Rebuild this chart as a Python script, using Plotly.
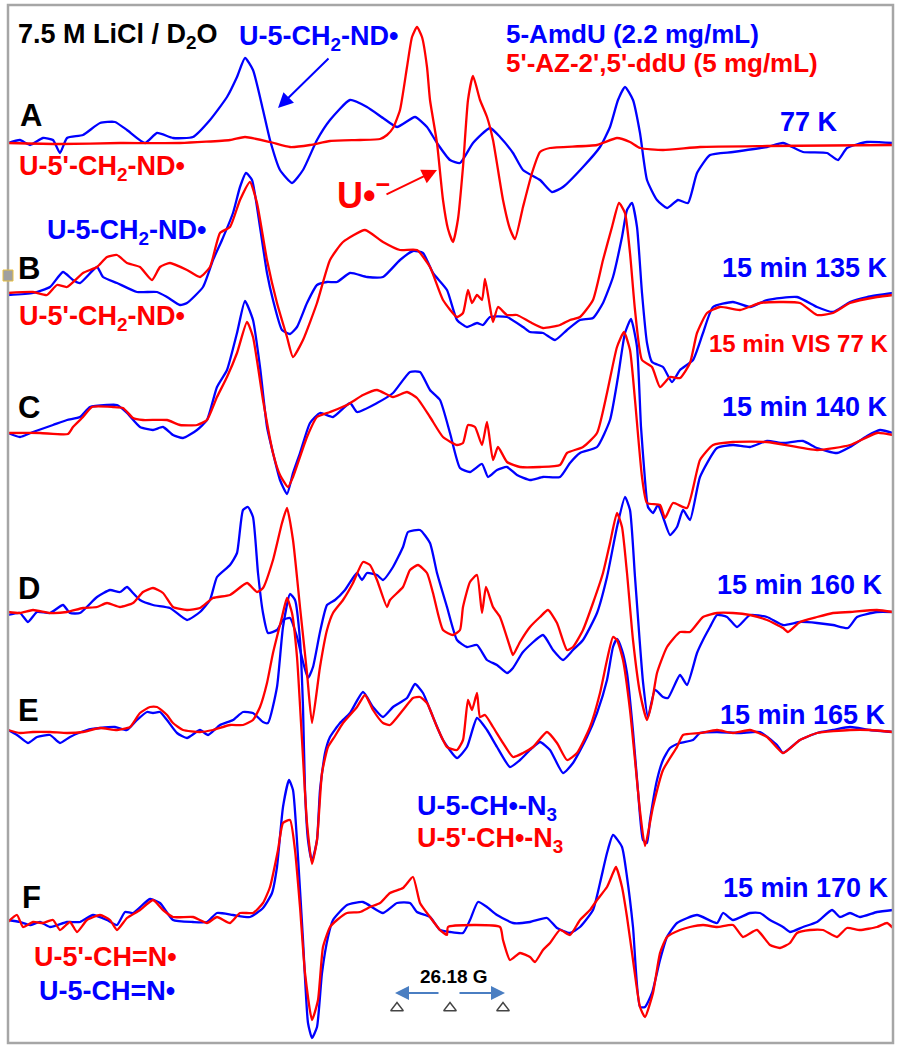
import plotly.graph_objects as go

# ---------------------------------------------------------------
# ESR first-derivative spectra.
# Each entry: (field position [a.u.], signal intensity [a.u.])
# blue = 5-AmdU (2.2 mg/mL), red = 5'-AZ-2',5'-ddU (5 mg/mL)
# ---------------------------------------------------------------
A_blue = [(8,1),(20,4),(30,-1),(43,6),(53,4),(60,-9),(67,6),(83,9),(100,21),(115,22),(127,14),(145,1),(157,11),(173,6),(193,7),(210,24),(227,47),(237,67),(245,86),(253,74),(263,34),(270,4),(280,-26),(292,-39),(303,-26),(317,4),(330,24),(350,44),(367,37),(383,26),(397,17),(415,27),(427,17),(437,1),(450,-16),(460,-19),(473,1),(490,16),(500,7),(513,-9),(523,-26),(540,-36),(552,-48),(563,-43),(583,-23),(600,-3),(610,17),(618,44),(625,57),(633,44),(640,11),(647,-36),(657,-56),(667,-64),(678,-56),(688,-59),(697,-29),(710,-11),(733,-8),(767,-3),(783,1),(803,-8),(827,-9),(838,-16),(847,-4),(867,2),(893,1)]
A_red = [(8,1),(60,0),(120,1),(180,1),(230,4),(245,7),(270,2),(290,-3),(310,-1),(330,3),(360,4),(380,5),(387,9),(393,16),(400,34),(407,77),(412,107),(417,117),(422,107),(427,77),(430,44),(437,1),(443,-56),(448,-85),(453,-98),(458,-75),(463,-23),(468,44),(473,68),(480,44),(487,27),(493,4),(503,-56),(510,-85),(515,-95),(523,-63),(532,-29),(540,-8),(550,-4),(597,-1),(617,6),(630,2),(640,-4),(663,-6),(700,-3),(767,-2),(893,-1)]

B_blue = [(8,0),(33,2),(50,8),(63,23),(73,15),(80,12),(97,28),(103,18),(117,12),(137,3),(157,3),(167,-2),(180,-10),(187,-8),(203,8),(213,35),(222,55),(233,82),(240,108),(246,122),(252,115),(260,68),(267,22),(273,-5),(282,-35),(290,-39),(297,-32),(307,-8),(317,10),(327,13),(337,13),(350,22),(367,18),(383,18),(400,35),(413,44),(423,42),(433,22),(447,5),(457,-25),(467,-32),(477,-28),(483,-30),(490,-22),(507,-22),(523,-32),(530,-37),(543,-38),(555,-45),(567,-35),(580,-25),(593,-23),(603,-8),(613,18),(622,58),(627,85),(632,92),(637,68),(642,2),(647,-48),(652,-67),(663,-72),(672,-87),(680,-75),(693,-65),(703,-38),(713,-12),(733,-7),(750,-12),(767,-5),(797,-2),(817,-12),(833,-17),(850,-7),(867,-2),(893,2)]
B_red = [(8,2),(33,3),(47,0),(57,10),(67,8),(83,22),(97,28),(107,38),(117,40),(127,32),(140,28),(152,15),(160,28),(170,32),(187,25),(200,18),(210,28),(220,62),(230,68),(240,95),(250,113),(257,92),(267,35),(277,-8),(287,-42),(293,-62),(303,-45),(317,-8),(330,35),(343,53),(365,65),(383,53),(400,45),(417,45),(430,28),(443,-5),(457,-22),(463,-18),(468,5),(472,-8),(477,0),(482,-5),(485,16),(490,-12),(493,-27),(498,-12),(507,-20),(517,-20),(530,-27),(543,-33),(560,-30),(570,-25),(580,-22),(593,-5),(603,35),(612,68),(619,92),(625,82),(630,42),(635,-15),(642,-65),(652,-72),(660,-92),(670,-82),(680,-83),(690,-68),(697,-38),(707,-18),(720,-12),(740,-15),(760,-8),(783,-7),(800,-8),(817,-20),(833,-18),(850,-8),(877,-2),(893,0)]

C_blue = [(8,0),(20,-4),(33,1),(53,8),(67,13),(80,16),(90,26),(107,28),(117,28),(127,20),(140,6),(153,3),(163,6),(173,-2),(183,-5),(197,3),(207,13),(217,46),(227,63),(237,100),(245,132),(253,113),(260,66),(267,6),(273,-20),(280,-47),(287,-61),(293,-40),(300,-20),(310,10),(320,20),(333,16),(350,30),(357,21),(377,30),(393,40),(410,61),(420,61),(430,43),(440,33),(450,0),(460,-35),(470,-39),(482,-31),(488,-44),(497,-37),(507,-34),(517,-42),(530,-47),(543,-44),(560,-44),(570,-30),(580,-20),(597,-14),(610,13),(618,56),(625,100),(631,114),(637,86),(641,6),(645,-47),(648,-74),(653,-80),(658,-72),(663,-84),(670,-102),(677,-94),(683,-77),(690,-87),(700,-44),(717,-15),(733,-12),(750,-14),(767,-8),(783,-10),(803,-8),(817,-15),(837,-20),(850,-14),(867,-3),(880,3),(893,0)]
C_red = [(8,0),(40,0),(68,-1),(73,6),(83,16),(92,26),(113,26),(123,25),(133,15),(143,13),(167,13),(180,8),(197,8),(207,13),(217,36),(227,56),(237,80),(247,111),(253,96),(263,33),(273,-20),(280,-42),(288,-54),(293,-44),(307,-4),(317,16),(330,21),(347,28),(363,38),(377,43),(393,36),(407,41),(417,35),(430,16),(443,-4),(457,-12),(463,-10),(468,8),(475,6),(482,-12),(487,11),(493,-27),(498,-14),(507,-29),(520,-34),(540,-34),(560,-32),(567,-20),(583,-14),(597,0),(607,40),(617,86),(624,101),(630,83),(635,33),(642,-44),(647,-70),(660,-72),(665,-85),(673,-70),(687,-75),(700,-27),(713,-12),(733,-9),(767,-9),(817,-17),(850,-12),(877,0),(893,-2)]

D_blue = [(8,-3),(20,-1),(28,-10),(37,0),(50,-1),(63,7),(70,-1),(80,-1),(97,15),(110,22),(120,20),(127,25),(133,19),(140,12),(153,7),(170,4),(187,-8),(200,0),(210,12),(217,35),(230,47),(237,59),(243,102),(248,105),(253,95),(258,39),(263,-1),(268,-21),(277,-18),(283,-8),(290,-6),(297,-25),(303,-50),(308,-66),(313,-55),(320,-20),(327,7),(335,12),(345,22),(357,39),(362,32),(367,39),(377,37),(383,32),(393,45),(403,65),(408,80),(420,82),(430,69),(437,39),(447,5),(457,-28),(467,-35),(477,-33),(487,-48),(497,-53),(507,-61),(513,-56),(523,-40),(543,-23),(553,-38),(563,-48),(573,-38),(583,-28),(597,-1),(607,35),(617,85),(625,115),(630,102),(635,35),(643,-70),(648,-105),(655,-78),(663,-85),(668,-86),(680,-63),(687,-73),(697,-41),(703,-28),(710,-15),(717,-3),(727,-5),(737,-15),(750,-3),(767,-5),(783,-13),(800,-10),(817,-11),(833,-13),(848,-16),(857,-5),(877,0),(893,0)]
D_red = [(8,0),(20,-1),(33,2),(50,-1),(67,0),(83,4),(97,5),(107,9),(120,5),(133,9),(143,20),(153,24),(163,19),(173,5),(187,2),(200,4),(213,14),(230,17),(247,29),(257,20),(263,24),(273,52),(282,89),(287,104),(293,72),(300,5),(307,-61),(312,-111),(320,-55),(327,-18),(333,-1),(343,12),(353,29),(363,50),(370,47),(377,32),(387,5),(390,12),(403,25),(410,42),(418,47),(427,39),(433,19),(443,-18),(453,-23),(460,-18),(463,5),(470,30),(477,37),(482,-1),(486,25),(493,5),(500,-5),(510,-35),(513,-43),(520,-30),(530,-15),(540,-5),(548,2),(557,-11),(567,-38),(573,-35),(583,-18),(593,9),(603,39),(610,69),(617,99),(622,85),(627,39),(633,-28),(640,-81),(647,-108),(652,-90),(657,-61),(667,-35),(680,-20),(690,-20),(703,-5),(717,-1),(733,-1),(750,-3),(767,-8),(783,-16),(788,-20),(800,-10),(817,-5),(833,-1),(850,0),(877,2),(893,0)]

E_blue = [(8,1),(17,-4),(28,-12),(37,-6),(50,-4),(60,-12),(70,-6),(87,1),(100,3),(115,4),(127,1),(137,11),(147,19),(153,18),(160,19),(167,11),(177,-2),(187,-7),(200,1),(208,-4),(220,6),(233,11),(243,19),(253,18),(263,9),(268,8),(277,44),(283,104),(290,137),(295,131),(300,91),(303,24),(305,-59),(308,-109),(312,-130),(317,-109),(320,-59),(325,-22),(330,-6),(340,8),(350,18),(363,39),(373,24),(383,14),(393,24),(407,33),(415,47),(423,38),(433,14),(443,-9),(457,-27),(467,-16),(477,13),(487,1),(497,-16),(510,-36),(520,-29),(530,-19),(540,-11),(550,-19),(563,-42),(573,-32),(587,-6),(597,18),(607,51),(613,84),(617,92),(622,81),(627,58),(633,0),(638,-60),(643,-109),(647,-112),(650,-89),(657,-49),(663,-29),(670,-17),(680,-12),(693,-9),(700,-2),(717,-1),(740,-2),(760,-1),(777,-14),(783,-22),(800,-9),(817,-2),(833,1),(850,4),(870,1),(893,-1)]
E_red = [(8,1),(20,-2),(33,-1),(50,-1),(67,-2),(83,-1),(100,3),(117,1),(130,4),(140,18),(150,24),(157,24),(167,16),(173,8),(183,1),(200,-1),(213,1),(230,6),(243,6),(253,11),(260,24),(267,48),(273,78),(282,114),(287,133),(292,118),(297,74),(302,-9),(307,-92),(312,-133),(317,-109),(322,-42),(328,-16),(335,-5),(343,8),(357,24),(365,36),(373,21),(383,8),(390,6),(403,21),(413,33),(420,34),(427,28),(437,4),(447,-16),(457,-19),(463,-9),(468,31),(472,21),(477,38),(480,14),(485,16),(493,4),(503,-12),(513,-26),(523,-22),(533,-16),(547,-1),(557,-12),(567,-29),(577,-22),(590,4),(600,38),(607,71),(613,94),(617,91),(623,71),(630,21),(635,-29),(640,-80),(645,-115),(653,-76),(663,-39),(677,-16),(683,-4),(700,-2),(717,1),(733,-2),(750,1),(767,-6),(783,-22),(800,-9),(817,-2),(850,1),(870,1),(893,-1)]

F_blue = [(8,0),(20,-2),(30,-5),(40,-2),(50,-7),(67,-2),(80,-2),(93,5),(107,0),(117,-5),(125,8),(133,7),(150,21),(160,17),(173,0),(193,-2),(207,-2),(217,7),(233,5),(250,3),(263,12),(272,27),(277,53),(283,113),(289,140),(293,130),(298,63),(303,-20),(308,-103),(312,-118),(317,-107),(322,-53),(328,-17),(333,0),(347,15),(363,18),(383,7),(397,17),(410,17),(417,8),(430,3),(440,-10),(450,-12),(463,-13),(470,0),(478,18),(487,13),(497,5),(513,-3),(530,-2),(547,2),(557,-8),(570,-13),(580,-7),(593,10),(600,37),(607,67),(613,85),(622,73),(627,43),(633,-7),(640,-87),(645,-87),(652,-73),(660,-40),(667,-17),(677,-3),(697,5),(717,-3),(723,7),(733,0),(750,7),(760,7),(770,0),(783,-7),(790,-12),(803,-7),(817,-2),(832,10),(840,3),(850,7),(860,3),(877,8),(893,10)]
F_red = [(8,-2),(17,5),(23,-7),(33,-2),(43,-3),(53,0),(60,-10),(70,-2),(77,-12),(87,0),(100,5),(110,0),(117,-10),(127,2),(140,10),(153,20),(163,10),(173,3),(193,3),(207,-3),(217,3),(230,-3),(240,7),(253,7),(263,17),(270,33),(278,70),(283,97),(290,100),(295,70),(300,13),(305,-53),(312,-100),(318,-80),(323,-27),(330,-7),(337,0),(347,7),(360,8),(370,13),(380,17),(390,27),(403,32),(413,43),(420,17),(430,3),(440,-10),(447,-15),(448,-7),(500,-7),(503,-20),(510,-40),(520,-33),(530,-37),(535,-42),(543,-30),(550,-23),(560,-10),(570,-15),(580,0),(590,10),(597,20),(607,33),(613,47),(616,53),(622,33),(627,3),(633,-40),(640,-87),(645,-97),(653,-73),(660,-33),(667,-17),(680,-10),(690,-7),(703,-5),(717,-7),(733,-5),(743,-17),(757,-10),(770,-25),(780,-28),(790,-23),(797,-13),(810,-10),(823,-10),(837,-17),(847,-8),(860,-10),(877,-7),(887,-3),(893,-8)]

SPECTRA = {"A": (A_blue, A_red), "B": (B_blue, B_red), "C": (C_blue, C_red),
           "D": (D_blue, D_red), "E": (E_blue, E_red), "F": (F_blue, F_red)}

# scale bar
SCALE_G = 26.18
AU_PER_G = 53 / 26.18
SCALE_CENTER = 450

# ---------------------------------------------------------------
# layout constants (display units, y measured downward)
# ---------------------------------------------------------------
OFFSET = {"A": 144, "B": 295, "C": 433, "D": 612, "E": 731, "F": 920}
BLUE = "#0000FF"
RED = "#FF0000"
FONT = "Arial, 'Liberation Sans', sans-serif"

fig = go.Figure()
for key, (blue, red) in SPECTRA.items():
    for pts, col in ((blue, BLUE), (red, RED)):
        xs = [p[0] for p in pts]
        ys = [-OFFSET[key] + p[1] for p in pts]
        fig.add_trace(go.Scatter(x=xs, y=ys, mode="lines",
                                 line=dict(color=col, width=2.3, shape="spline", smoothing=0.5),
                                 hoverinfo="skip"))

# scale-bar triangles
tri_x = [SCALE_CENTER - SCALE_G * AU_PER_G, SCALE_CENTER, SCALE_CENTER + SCALE_G * AU_PER_G]
fig.add_trace(go.Scatter(x=tri_x, y=[-1008] * 3, mode="markers",
                         marker=dict(symbol="triangle-up-open", size=11, color="#444444",
                                     line=dict(width=1.4, color="#444444")),
                         hoverinfo="skip"))

def label(text, x, y, color, size=27, anchor="left"):
    fig.add_annotation(x=x, y=-y, text=text, showarrow=False, xanchor=anchor, yanchor="middle",
                       borderpad=0,
                       font=dict(family=FONT, size=size, color=color, weight="bold"))

label("7.5 M LiCl / D<sub>2</sub>O", 17, 36, "black", 27)
label("U-5-CH<sub>2</sub>-ND•", 238, 38, BLUE)
label("5-AmdU (2.2 mg/mL)", 505, 34, BLUE, 26)
label("5'-AZ-2',5'-ddU (5 mg/mL)", 505, 63, RED, 26)
label("A", 19, 115, "black", 31)
label("77 K", 839, 122, BLUE, anchor="right")
label("U-5'-CH<sub>2</sub>-ND•", 18, 168, RED)
label("U•<sup>−</sup>", 336, 193, RED, 36)
label("U-5-CH<sub>2</sub>-ND•", 46, 232, BLUE)
label("B", 17, 268, "black", 31)
label("15 min 135 K", 889, 268, BLUE, anchor="right")
label("U-5'-CH<sub>2</sub>-ND•", 18, 318, RED)
label("15 min VIS 77 K", 889, 343, RED, 24, anchor="right")
label("C", 17, 407, "black", 31)
label("15 min 140 K", 889, 407, BLUE, anchor="right")
label("D", 17, 588, "black", 31)
label("15 min 160 K", 884, 585, BLUE, anchor="right")
label("E", 17, 710, "black", 31)
label("15 min 165 K", 887, 715, BLUE, anchor="right")
label("U-5-CH•-N<sub>3</sub>", 416, 808, BLUE)
label("U-5'-CH•-N<sub>3</sub>", 416, 840, RED)
label("F", 21, 897, "black", 31)
label("15 min 170 K", 890, 888, BLUE, anchor="right")
label("U-5'-CH=N•", 33, 957, RED)
label("U-5-CH=N•", 38, 991, BLUE)
label(f"{SCALE_G:.2f} G", SCALE_CENTER + 4, 976, "black", 19, anchor="center")

def arrow(x_head, y_head, x_tail, y_tail, color, width=2, size=1.5):
    fig.add_annotation(x=x_head, y=-y_head, ax=x_tail, ay=-y_tail, axref="x", ayref="y",
                       xref="x", yref="y", text="", showarrow=True, arrowhead=2,
                       arrowsize=size, arrowwidth=width, arrowcolor=color)

arrow(278, 108, 330, 57, BLUE)
arrow(437, 170, 385, 195, RED)
arrow(SCALE_CENTER - SCALE_G * AU_PER_G - 2, 993, SCALE_CENTER - 10, 993, "#4A7EC2", 2, 1.4)
arrow(SCALE_CENTER + SCALE_G * AU_PER_G + 2, 993, SCALE_CENTER + 8, 993, "#4A7EC2", 2, 1.4)

# frame and selection handle
fig.add_shape(type="rect", x0=8, x1=893, y0=-5, y1=-1043, xref="x", yref="y",
              line=dict(color="#A6A6A6", width=2.5))
fig.add_shape(type="rect", x0=3, x1=13, y0=-270, y1=-281, xref="x", yref="y",
              line=dict(color="#E8C040", width=1), fillcolor="#A0A0A0")

fig.update_layout(width=900, height=1050, margin=dict(l=0, r=0, t=0, b=0),
                  paper_bgcolor="white", plot_bgcolor="white", showlegend=False)
fig.update_xaxes(range=[0, 900], visible=False, fixedrange=True)
fig.update_yaxes(range=[-1050, 0], visible=False, fixedrange=True)

fig.write_html("out.html", config={"displayModeBar": False},
               post_script="document.body.style.margin='0px';document.body.style.overflow='hidden';")
